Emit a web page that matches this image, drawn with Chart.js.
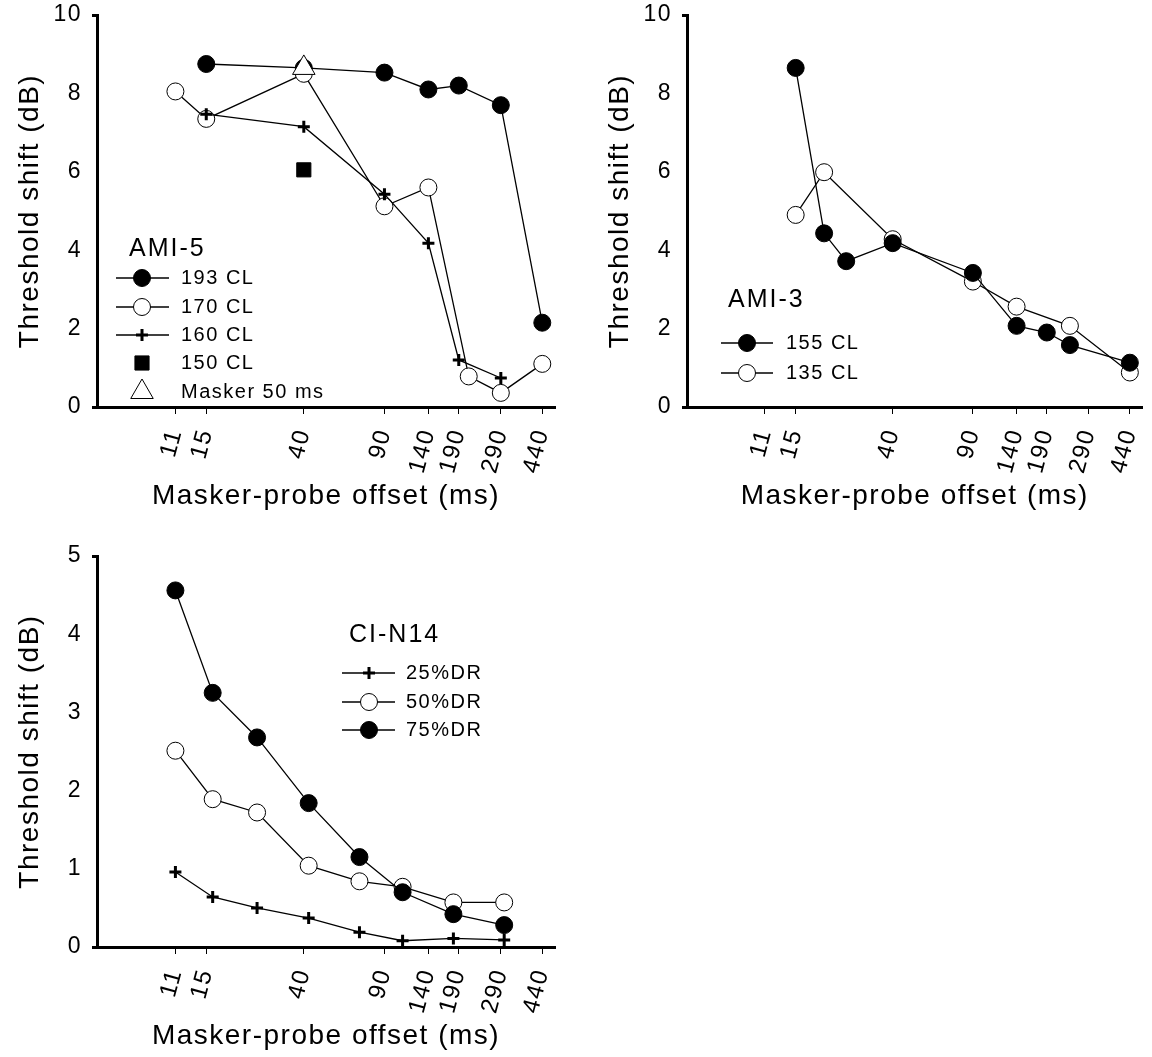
<!DOCTYPE html>
<html>
<head>
<meta charset="utf-8">
<script src="https://cdn.jsdelivr.net/npm/chart.js@4.4.1/dist/chart.umd.min.js"></script>
<style>
  html, body { margin: 0; padding: 0; background: #fff; }
  #page { position: relative; width: 1152px; height: 1057px; overflow: hidden; }
  canvas { position: absolute; }
</style>
</head>
<body>
<div id="page">
  <canvas id="ami5Chart" width="580" height="520" style="left:0;top:0"></canvas>
  <canvas id="ami3Chart" width="562" height="520" style="left:590px;top:0"></canvas>
  <canvas id="cin14Chart" width="580" height="517" style="left:0;top:540px"></canvas>
</div>
<script>
// Configuration
const FONT = "'Liberation Sans', Arial, sans-serif";
Chart.defaults.font.family = FONT;
Chart.defaults.color = '#000';
Chart.defaults.animation = false;

// Tick marks on the offset axis (ms)
const xTicks = [11, 15, 40, 90, 140, 190, 290, 440];

// AMI-5
const ami5X193 = [15, 40, 90, 140, 190, 290, 440];
const ami5Y193 = [8.75, 8.65, 8.53, 8.1, 8.2, 7.7, 2.15];
const ami5X170 = [11, 15, 40, 90, 140, 210, 290, 440];
const ami5Y170 = [8.05, 7.35, 8.5, 5.12, 5.6, 0.78, 0.36, 1.1];
const ami5X160 = [15, 40, 90, 140, 190, 290];
const ami5Y160 = [7.47, 7.15, 5.43, 4.18, 1.2, 0.74];
const ami5X150 = [40];
const ami5Y150 = [6.05];
const ami5XMasker = [40];
const ami5YMasker = [8.65];

// AMI-3
const ami3X155 = [15, 20, 25, 40, 90, 140, 190, 240, 440];
const ami3Y155 = [8.65, 4.43, 3.72, 4.18, 3.42, 2.07, 1.9, 1.58, 1.13];
const ami3X135 = [15, 20, 40, 90, 140, 240, 440];
const ami3Y135 = [4.9, 5.99, 4.28, 3.2, 2.56, 2.07, 0.88];

// CI-N14
const cinX = [11, 16, 25, 42, 70, 108, 180, 300];
const cinY25 = [0.96, 0.64, 0.5, 0.37, 0.19, 0.08, 0.11, 0.09];
const cinY50 = [2.51, 1.89, 1.72, 1.04, 0.84, 0.77, 0.57, 0.57];
const cinY75 = [4.56, 3.25, 2.68, 1.84, 1.15, 0.7, 0.42, 0.28];

// Marker styles
const FILLED = { shape: 'circle', r: 8.5, fill: '#000', bw: 1 };
const OPEN   = { shape: 'circle', r: 8.5, fill: '#fff', bw: 1 };
const CROSS  = { shape: 'cross', r: 6, fill: '#000', bw: 3 };
const SQUARE = { shape: 'rect', r: 10, fill: '#000', bw: 1, line: false };
const TRI    = { shape: 'triangle', r: 13, fill: '#fff', bw: 1, line: false };

function series(label, xs, ys, style, order) {
	return {
		label: label,
		order: order,
		data: xs.map((x, i) => ({ x: x, y: ys[i] })),
		showLine: style.line !== false,
		borderColor: '#000',
		borderWidth: 1.3,
		pointStyle: style.shape,
		pointRadius: style.r,
		pointHoverRadius: style.r,
		pointBackgroundColor: style.fill,
		pointBorderColor: '#000',
		pointBorderWidth: style.bw,
		clip: false,
	};
}

// Canvas letter spacing (the figure's type is set wide)
const spacing = {
	id: 'spacing',
	beforeUpdate(chart) { chart.ctx.letterSpacing = '1.5px'; },
	beforeDraw(chart) { chart.ctx.letterSpacing = '1.5px'; },
};

// Legend drawn inside the plot, like the original figure
const panelLegend = {
	id: 'panelLegend',
	afterDatasetsDraw(chart, args, opts) {
		const ctx = chart.ctx;
		ctx.save();
		ctx.textBaseline = 'middle';
		ctx.textAlign = 'left';
		ctx.fillStyle = '#000';
		ctx.letterSpacing = '2px';
		ctx.font = opts.titleSize + 'px ' + FONT;
		ctx.fillText(opts.title, opts.titleX, opts.titleY);

		opts.rows.forEach(row => {
			const ds = chart.data.datasets.find(d => d.label === row.label);
			if (ds.showLine) {
				ctx.beginPath();
				ctx.lineWidth = ds.borderWidth;
				ctx.strokeStyle = ds.borderColor;
				ctx.moveTo(opts.lineFrom, row.y);
				ctx.lineTo(opts.lineTo, row.y);
				ctx.stroke();
			}
			ctx.fillStyle = ds.pointBackgroundColor;
			ctx.strokeStyle = ds.pointBorderColor;
			ctx.lineWidth = ds.pointBorderWidth;
			Chart.helpers.drawPoint(ctx, {
				pointStyle: ds.pointStyle,
				radius: ds.pointRadius,
				rotation: 0,
				borderWidth: ds.pointBorderWidth,
			}, opts.markerX, row.y);

			ctx.fillStyle = '#000';
			ctx.letterSpacing = '1.5px';
			ctx.font = '20px ' + FONT;
			ctx.fillText(ds.label, opts.textX, row.y);
		});
		ctx.restore();
	}
};

function scalesFor(yMax, yStep, canvasH, plotBottom, titleCenter) {
	const xHeight = canvasH - plotBottom;
	return {
		x: {
			type: 'logarithmic',
			min: 5,
			max: 500,
			afterBuildTicks: axis => { axis.ticks = xTicks.map(v => ({ value: v })); },
			afterFit: axis => {
				axis.height = xHeight;
				axis.paddingLeft = 0;
				axis.paddingRight = 0;
			},
			grid: { drawOnChartArea: false, drawTicks: true, tickLength: 7, tickWidth: 1, tickColor: '#000' },
			border: { display: true, color: '#000', width: 3 },
			ticks: {
				autoSkip: false,
				minRotation: 75,
				maxRotation: 75,
				padding: 12,
				font: { size: 24 },
				color: '#000',
				callback: v => String(v),
			},
			title: {
				display: true,
				text: 'Masker-probe offset (ms)',
				font: { size: 28 },
				color: '#000',
				padding: { top: 0, bottom: canvasH - titleCenter - 16.8 },
			},
		},
		y: {
			min: 0,
			max: yMax,
			afterFit: axis => {
				axis.width = 97;
				axis.paddingTop = 0;
				axis.paddingBottom = 0;
			},
			grid: {
				drawOnChartArea: false,
				drawTicks: true,
				tickLength: 5,
				tickWidth: 3,
				tickColor: c => (c.tick && (c.tick.value === 0 || c.tick.value === yMax)) ? '#000' : 'rgba(0,0,0,0)',
			},
			border: { display: true, color: '#000', width: 3 },
			ticks: { stepSize: yStep, padding: 10, font: { size: 23 }, color: '#000' },
			title: {
				display: true,
				text: 'Threshold shift (dB)',
				font: { size: 28 },
				color: '#000',
				padding: { top: 13, bottom: 0 },
			},
		},
	};
}

function drawPanel(id, datasets, panel, legend) {
	return new Chart(document.getElementById(id), {
		type: 'scatter',
		data: { datasets: datasets },
		options: {
			responsive: false,
			animation: false,
			layout: { padding: { top: panel.top, right: panel.right, bottom: 0, left: 0 } },
			scales: scalesFor(panel.yMax, panel.yStep, panel.height, 407, 496),
			plugins: {
				legend: { display: false },
				tooltip: { enabled: false },
				panelLegend: legend,
			},
		},
		plugins: [spacing, panelLegend],
	});
}

let charts = {};

charts.ami5 = drawPanel('ami5Chart', [
	series('193 CL', ami5X193, ami5Y193, FILLED, 4),
	series('170 CL', ami5X170, ami5Y170, OPEN, 2),
	series('160 CL', ami5X160, ami5Y160, CROSS, 1),
	series('150 CL', ami5X150, ami5Y150, SQUARE, 3),
	series('Masker 50 ms', ami5XMasker, ami5YMasker, TRI, 0),
], { top: 15, right: 25, height: 520, yMax: 10, yStep: 2 }, {
	title: 'AMI-5', titleSize: 25, titleX: 129, titleY: 249,
	markerX: 142, lineFrom: 116, lineTo: 169, textX: 181,
	rows: [
		{ label: '193 CL', y: 278 },
		{ label: '170 CL', y: 307 },
		{ label: '160 CL', y: 335 },
		{ label: '150 CL', y: 363 },
		{ label: 'Masker 50 ms', y: 392 },
	],
});

charts.ami3 = drawPanel('ami3Chart', [
	series('155 CL', ami3X155, ami3Y155, FILLED, 0),
	series('135 CL', ami3X135, ami3Y135, OPEN, 1),
], { top: 15, right: 7, height: 520, yMax: 10, yStep: 2 }, {
	title: 'AMI-3', titleSize: 25, titleX: 138, titleY: 300,
	markerX: 157, lineFrom: 131, lineTo: 183, textX: 196,
	rows: [
		{ label: '155 CL', y: 343 },
		{ label: '135 CL', y: 373 },
	],
});

charts.cin14 = drawPanel('cin14Chart', [
	series('25%DR', cinX, cinY25, CROSS, 2),
	series('50%DR', cinX, cinY50, OPEN, 1),
	series('75%DR', cinX, cinY75, FILLED, 0),
], { top: 16, right: 25, height: 517, yMax: 5, yStep: 1 }, {
	title: 'CI-N14', titleSize: 25, titleX: 349, titleY: 95,
	markerX: 369, lineFrom: 342, lineTo: 395, textX: 406,
	rows: [
		{ label: '25%DR', y: 133 },
		{ label: '50%DR', y: 162 },
		{ label: '75%DR', y: 190 },
	],
});
</script>
</body>
</html>
